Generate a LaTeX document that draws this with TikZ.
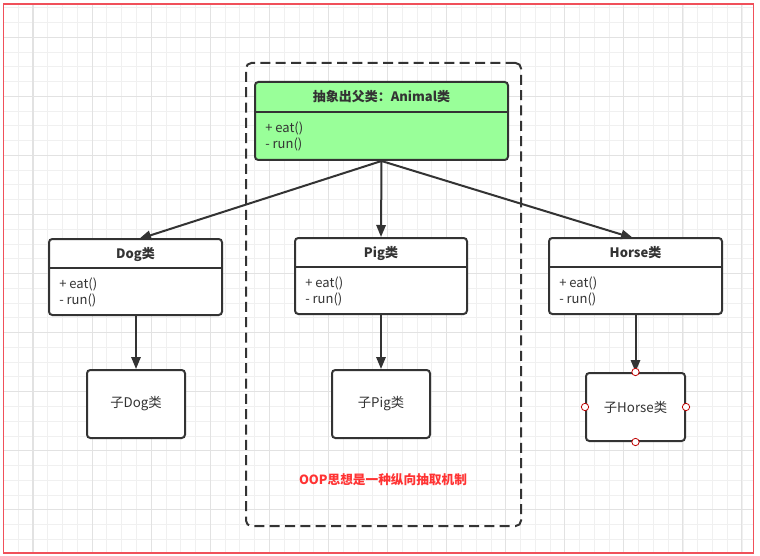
\documentclass[tikz,border=0pt]{standalone}
\usepackage{fontspec}
\setmainfont{Noto Sans CJK SC}
\usetikzlibrary{arrows.meta}
\definecolor{ink}{HTML}{333333}
\definecolor{gridminor}{HTML}{F0F0F0}
\definecolor{gridmajor}{HTML}{E2E2E2}
\definecolor{animalgreen}{HTML}{99FF99}
\definecolor{frame}{HTML}{F0505A}
\definecolor{oopred}{HTML}{FF3333}
\begin{document}
\begin{tikzpicture}[x=0.75pt,y=-0.75pt,
  box/.style={draw=ink, line width=1.5pt, rounded corners=2.5pt, fill=white, inner sep=0pt},
  title/.style={font=\fontsize{9.75}{11}\selectfont\bfseries, text=ink},
  body/.style={font=\fontsize{9.75}{12}\selectfont, text=ink, anchor=west, align=left, inner sep=0pt},
  child/.style={box, minimum width=73.5pt, minimum height=51pt, font=\fontsize{10}{11}\selectfont, text=ink},
  conn/.style={draw=ink, line width=1.5pt, -{Triangle[length=9pt,width=7pt]}},
  port/.style={circle, draw=red!75!black, fill=white, line width=0.6pt, minimum size=5.5pt, inner sep=0pt}
]
\useasboundingbox (0,0) rectangle (760,556);
\fill[white] (0,0) rectangle (760,556);
% grid
\begin{scope}
\clip (4,4) rectangle (753,553);
\foreach \i in {-1,...,51} {
  \draw[gridminor, line width=0.6pt] ({3.5+14.77*\i},0) -- ({3.5+14.77*\i},556);
}
\foreach \i in {-1,...,38} {
  \draw[gridminor, line width=0.6pt] (0,{7.6+14.77*\i}) -- (760,{7.6+14.77*\i});
}
\foreach \i in {0,...,13} {
  \draw[gridmajor, line width=0.8pt] ({33+59.07*\i},0) -- ({33+59.07*\i},556);
}
\foreach \i in {0,...,9} {
  \draw[gridmajor, line width=0.8pt] (0,{37.4+59.07*\i}) -- (760,{37.4+59.07*\i});
}
\end{scope}
% outer red frame
\node (outer) [draw=frame, line width=1pt, minimum width=562.5pt, minimum height=411.75pt, inner sep=0pt] at (378.5,278.5) {};
% dashed group
\node (group) [draw=ink, line width=1.5pt, dash pattern=on 7.5pt off 4pt, rounded corners=4pt, minimum width=206.25pt, minimum height=347.25pt, inner sep=0pt] at (383.5,294.5) {};

% Animal class
\node (animal) [box, fill=animalgreen, minimum width=189.75pt, minimum height=58.5pt] at (381.5,121) {};
\draw[ink, line width=1.5pt] (animal.west |- 0,112) -- (animal.east |- 0,112);
\node (animalT) [title] at (381.5,97) {抽象出父类：Animal类};
\node (animalB) [body] at (265,136) {+ eat()\\- run()};

% Dog class
\node (dog) [box, minimum width=129.75pt, minimum height=57pt] at (135.5,277) {};
\draw[ink, line width=1.5pt] (dog.west |- 0,268) -- (dog.east |- 0,268);
\node (dogT) [title] at (135.5,254) {Dog类};
\node (dogB) [body] at (59,292) {+ eat()\\- run()};

% Pig class
\node (pig) [box, minimum width=129pt, minimum height=57pt] at (381,276) {};
\draw[ink, line width=1.5pt] (pig.west |- 0,267) -- (pig.east |- 0,267);
\node (pigT) [title] at (381,253) {Pig类};
\node (pigB) [body] at (305,291) {+ eat()\\- run()};

% Horse class
\node (horse) [box, minimum width=129.75pt, minimum height=57pt] at (635.5,276) {};
\draw[ink, line width=1.5pt] (horse.west |- 0,267) -- (horse.east |- 0,267);
\node (horseT) [title] at (635.5,253) {Horse类};
\node (horseB) [body] at (559,291) {+ eat()\\- run()};

% children
\node (cdog) [child] at (136,404) {子Dog类};
\node (cpig) [child] at (381,404) {子Pig类};
\node (chorse) [child, minimum width=74.25pt] at (635.5,407) {子Horse类};

% connectors
\coordinate (dogtip) at (139,239);
\coordinate (horsetip) at (633,238);
\draw[conn] (animal.south) -- (dogtip);
\draw[conn] (animal.south) -- (pig.north);
\draw[conn] (animal.south) -- (horsetip);
\draw[conn] (dog.south -| cdog.north) -- (cdog.north);
\draw[conn] (pig.south) -- (cpig.north);
\draw[conn] (horse.south) -- (chorse.north);

% ports on child horse
\node (p1) [port] at (chorse.north) {};
\node (p2) [port] at (chorse.south) {};
\node (p3) [port] at (chorse.west) {};
\node (p4) [port] at (chorse.east) {};

% note
\node (note) [font=\fontsize{9.5}{11}\selectfont\bfseries, text=oopred] at (383,480) {OOP思想是一种纵向抽取机制};
\end{tikzpicture}
\end{document}
